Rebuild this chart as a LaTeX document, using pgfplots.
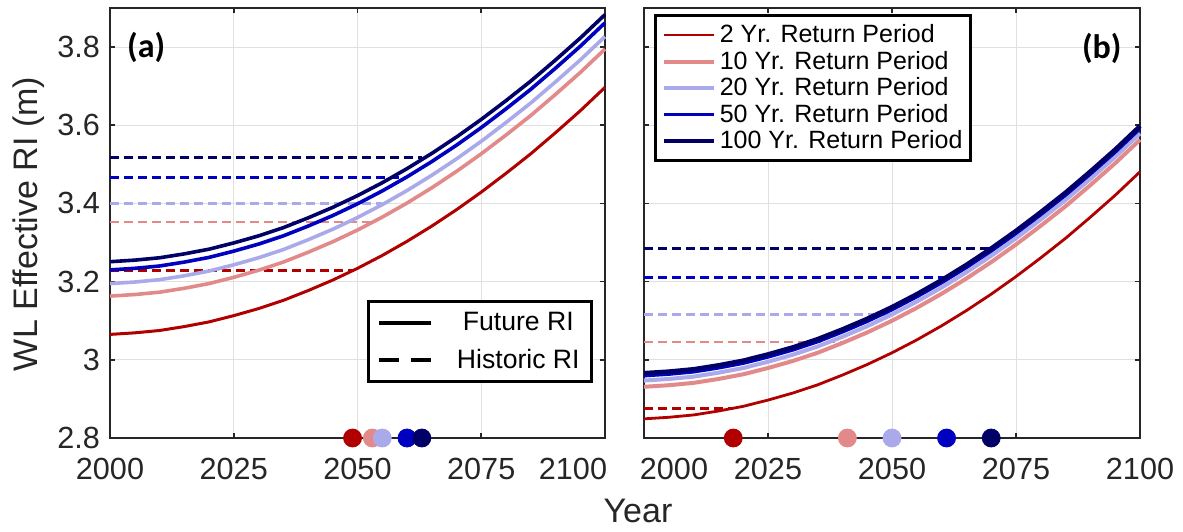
\documentclass[border=0pt]{standalone}
\usepackage{fontspec}
\setmainfont{Liberation Sans}
\newfontfamily\carlito{Carlito}
\usepackage{pgfplots}
\usepackage{pgfplotstable}
\pgfplotsset{compat=1.18}

\definecolor{cRed}{RGB}{176,0,0}
\definecolor{cPink}{RGB}{226,138,138}
\definecolor{cLav}{RGB}{170,170,235}
\definecolor{cBlue}{RGB}{0,0,192}
\definecolor{cNavy}{RGB}{0,0,102}
\definecolor{axgray}{RGB}{38,38,38}
\definecolor{gridgray}{RGB}{224,224,224}

\pgfplotstableread{
year a2    a10   a20   a50   a100  b2    b10   b20   b50   b100
2000 3.065 3.163 3.195 3.230 3.251 2.849 2.931 2.947 2.959 2.966
2005 3.069 3.167 3.199 3.234 3.255 2.853 2.935 2.951 2.963 2.970
2010 3.075 3.173 3.205 3.240 3.261 2.859 2.941 2.957 2.969 2.976
2015 3.085 3.183 3.215 3.250 3.271 2.869 2.951 2.967 2.979 2.986
2020 3.097 3.195 3.227 3.262 3.283 2.881 2.963 2.979 2.991 2.998
2025 3.113 3.211 3.243 3.278 3.299 2.897 2.979 2.995 3.007 3.014
2030 3.131 3.229 3.261 3.296 3.317 2.915 2.997 3.013 3.025 3.032
2035 3.152 3.250 3.282 3.317 3.338 2.936 3.018 3.034 3.046 3.053
2040 3.177 3.275 3.307 3.342 3.363 2.961 3.043 3.059 3.071 3.078
2045 3.204 3.302 3.334 3.369 3.390 2.988 3.070 3.086 3.098 3.105
2050 3.234 3.332 3.364 3.399 3.420 3.018 3.100 3.116 3.128 3.135
2055 3.267 3.365 3.397 3.432 3.453 3.051 3.133 3.149 3.161 3.168
2060 3.303 3.401 3.433 3.468 3.489 3.087 3.169 3.185 3.197 3.204
2065 3.342 3.440 3.472 3.507 3.528 3.126 3.208 3.224 3.236 3.243
2070 3.384 3.482 3.514 3.549 3.570 3.168 3.250 3.266 3.278 3.285
2075 3.429 3.527 3.559 3.594 3.615 3.213 3.295 3.311 3.323 3.330
2080 3.477 3.575 3.607 3.642 3.663 3.261 3.343 3.359 3.371 3.378
2085 3.527 3.625 3.657 3.692 3.713 3.311 3.393 3.409 3.421 3.428
2090 3.581 3.679 3.711 3.746 3.767 3.365 3.447 3.463 3.475 3.482
2095 3.637 3.735 3.767 3.802 3.823 3.421 3.503 3.519 3.531 3.538
2100 3.697 3.795 3.827 3.862 3.883 3.481 3.563 3.579 3.591 3.598
}\curves

\pgfplotsset{
  myaxis/.style={
    scale only axis,
    height=215pt,
    xmin=2000, xmax=2100, ymin=2.8, ymax=3.9,
    xtick={2000,2025,2050,2075,2100},
    ytick={2.8,3,3.2,3.4,3.6,3.8},
    grid=major,
    major grid style={gridgray, line width=0.5pt},
    axis line style={axgray, line width=0.8pt},
    tick style={axgray, line width=0.8pt},
    tick align=inside,
    major tick length=2.5pt,
    ticklabel style={font=\fontsize{15.3}{18}\selectfont, text=axgray},
    /pgf/number format/assume math mode=true,
    yticklabel style={xshift=-1.5pt},
    xticklabel style={yshift=-6.5pt},
    clip=false,
  },
  linelegA/.style={legend image code/.code={\draw[##1] (0pt,0pt) -- (26pt,0pt);}},
  linelegB/.style={legend image code/.code={\draw[##1] (0pt,0pt) -- (25pt,0pt);}},
  hist/.style={line width=1.25pt, dash pattern=on 4.5pt off 2.5pt, forget plot},
  dot/.style={only marks, mark=*, mark size=4.5pt, forget plot},
}

\begin{document}
\begin{tikzpicture}
\useasboundingbox (0,0) rectangle (591.5pt,265.5pt);

% ---------------- panel (a) ----------------
\begin{axis}[myaxis, linelegA,
  at={(55pt,46.5pt)}, anchor=south west, width=247.5pt,
  xticklabels={2000,2025,2050,2075,\makebox[0pt]{2100\hspace{32pt}}},
  legend cell align=center,
  legend style={at={(0.976,0.128)}, anchor=south east, draw=black, line width=1.5pt,
    font=\fontsize{13.3}{15}\selectfont, inner xsep=4pt, inner ysep=3pt,
    nodes={inner sep=2pt}, row sep=4pt,
    /tikz/every odd column/.append style={column sep=10pt}},
]
\addlegendimage{black, line width=2pt}
\addlegendentry{Future RI}
\addlegendimage{black, line width=2pt, dash pattern=on 10pt off 6pt}
\addlegendentry{Historic RI}

\addplot[hist, cRed]  coordinates {(2000,3.229) (2049,3.229)};
\addplot[hist, cPink] coordinates {(2000,3.352) (2053,3.352)};
\addplot[hist, cLav]  coordinates {(2000,3.400) (2055,3.400)};
\addplot[hist, cBlue] coordinates {(2000,3.467) (2060,3.467)};
\addplot[hist, cNavy] coordinates {(2000,3.517) (2063,3.517)};

\addplot[cRed,  line width=1.5pt, forget plot] table[x=year, y=a2]   {\curves};
\addplot[cPink, line width=1.8pt, forget plot] table[x=year, y=a10]  {\curves};
\addplot[cLav,  line width=1.8pt, forget plot] table[x=year, y=a20]  {\curves};
\addplot[cBlue, line width=1.8pt, forget plot] table[x=year, y=a50]  {\curves};
\addplot[cNavy, line width=1.8pt, forget plot] table[x=year, y=a100] {\curves};

\addplot[dot, cRed]  coordinates {(2049,2.8)};
\addplot[dot, cPink] coordinates {(2053,2.8)};
\addplot[dot, cLav]  coordinates {(2055,2.8)};
\addplot[dot, cBlue] coordinates {(2060,2.8)};
\addplot[dot, cNavy] coordinates {(2063,2.8)};

\node[font=\carlito\bfseries\fontsize{17}{20}\selectfont] at (axis description cs:0.073,0.909) {(a)};
\end{axis}

% ---------------- panel (b) ----------------
\begin{axis}[myaxis, linelegB,
  at={(322pt,46.5pt)}, anchor=south west, width=248pt,
  xticklabels={\makebox[0pt]{\hspace{30pt}2000},2025,2050,2075,2100},
  yticklabels={},
  legend cell align=left,
  legend style={at={(0.02,0.986)}, anchor=north west, draw=black, line width=1.5pt,
    font=\fontsize{12.5}{14}\selectfont, inner xsep=3pt, inner ysep=3.5pt,
    nodes={inner sep=1pt}, row sep=0.7pt,
    /tikz/every odd column/.append style={column sep=1pt}},
]
\addplot[hist, cRed]  coordinates {(2000,2.875) (2018,2.875)};
\addplot[hist, cPink] coordinates {(2000,3.046) (2041,3.046)};
\addplot[hist, cLav]  coordinates {(2000,3.116) (2050,3.116)};
\addplot[hist, cBlue] coordinates {(2000,3.210) (2061,3.210)};
\addplot[hist, cNavy] coordinates {(2000,3.285) (2070,3.285)};

\addplot[cRed,  line width=1.4pt] table[x=year, y=b2]   {\curves};
\addlegendentry{2 Yr. Return Period}
\addplot[cPink, line width=2pt]   table[x=year, y=b10]  {\curves};
\addlegendentry{10 Yr. Return Period}
\addplot[cLav,  line width=2pt]   table[x=year, y=b20]  {\curves};
\addlegendentry{20 Yr. Return Period}
\addplot[cBlue, line width=1.6pt] table[x=year, y=b50]  {\curves};
\addlegendentry{50 Yr. Return Period}
\addplot[cNavy, line width=2.2pt] table[x=year, y=b100] {\curves};
\addlegendentry{100 Yr. Return Period}

\addplot[dot, cRed]  coordinates {(2018,2.8)};
\addplot[dot, cPink] coordinates {(2041,2.8)};
\addplot[dot, cLav]  coordinates {(2050,2.8)};
\addplot[dot, cBlue] coordinates {(2061,2.8)};
\addplot[dot, cNavy] coordinates {(2070,2.8)};

\node[font=\carlito\bfseries\fontsize{17}{20}\selectfont] at (axis description cs:0.923,0.905) {(b)};
\end{axis}

\node[rotate=90, font=\fontsize{17}{20}\selectfont, text=axgray] at (14.5pt,153.5pt) {WL Effective RI (m)};
\node[anchor=base, font=\fontsize{17}{20}\selectfont, text=axgray] at (319pt,4.5pt) {Year};
\end{tikzpicture}
\end{document}
